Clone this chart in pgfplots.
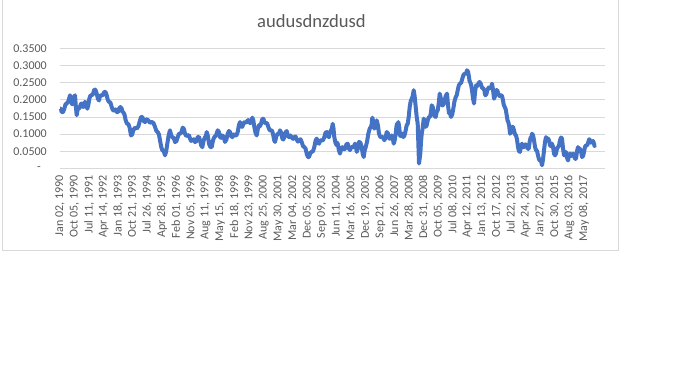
\documentclass[border=0pt]{standalone}
\usepackage{pgfplots}
\pgfplotsset{compat=1.18}
\usepackage{fontspec}
\setmainfont{Carlito}
\definecolor{serblue}{RGB}{68,114,196}
\definecolor{gridgray}{RGB}{217,217,217}
\definecolor{txtgray}{RGB}{89,89,89}
\begin{document}
\begin{tikzpicture}[x=1bp,y=1bp]
\path (0,0) rectangle (680,378);
\draw[gridgray, line width=0.75bp] (2.5,378) -- (2.5,128) -- (618.5,128) -- (618.5,378);
\node[anchor=base, text=txtgray, font=\fontsize{18.6bp}{22bp}\selectfont] at (311.5,351) {audusdnzdusd};
\begin{axis}[
  at={(60bp,210bp)}, anchor=south west,
  scale only axis, width=545bp, height=120bp,
  xmin=60, xmax=605, ymin=0, ymax=0.35,
  clip=false,
  axis line style={draw=none},
  major tick length=0pt,
  ymajorgrids, grid style={draw=gridgray, line width=0.75bp},
  ytick={0,0.05,0.1,0.15,0.2,0.25,0.3,0.35},
  yticklabels={{-\rule{6bp}{0pt}},0.0500,0.1000,0.1500,0.2000,0.2500,0.3000,0.3500},
  yticklabel style={font=\fontsize{12bp}{14bp}\selectfont, text=txtgray, inner sep=0pt, anchor=east, xshift=-13bp},
  xtick={60,74.56,89.11,103.67,118.22,132.78,147.33,161.89,176.44,191.0,205.56,220.11,234.67,249.22,263.78,278.33,292.89,307.44,322.0,336.56,351.11,365.67,380.22,394.78,409.33,423.89,438.44,453.0,467.56,482.11,496.67,511.22,525.78,540.33,554.89,569.44,584.0},
  xticklabels={{Jan 02, 1990},{Oct 05, 1990},{Jul 11, 1991},{Apr 14, 1992},{Jan 18, 1993},{Oct 21, 1993},{Jul 26, 1994},{Apr 28, 1995},{Feb 01, 1996},{Nov 05, 1996},{Aug 11, 1997},{May 15, 1998},{Feb 18, 1999},{Nov 23, 1999},{Aug 25, 2000},{May 30, 2001},{Mar 04, 2002},{Dec 05, 2002},{Sep 09, 2003},{Jun 11, 2004},{Mar 16, 2005},{Dec 19, 2005},{Sep 21, 2006},{Jun 26, 2007},{Mar 28, 2008},{Dec 31, 2008},{Oct 05, 2009},{Jul 08, 2010},{Apr 12, 2011},{Jan 13, 2012},{Oct 17, 2012},{Jul 22, 2013},{Apr 24, 2014},{Jan 27, 2015},{Oct 30, 2015},{Aug 03, 2016},{May 08, 2017}},
  xticklabel style={font=\fontsize{12bp}{14bp}\selectfont, text=txtgray, inner sep=0pt, yshift=-7bp, rotate=90, anchor=east},
]
\addplot[serblue, line width=4bp, line join=round, no marks] coordinates {
(60,0.174)(60.9,0.174)(61.7,0.164)(63.0,0.164)(64.3,0.174)(65.5,0.187)(66.7,0.189)(68.4,0.196)(70,0.213)(70.9,0.206)(71.7,0.189)(72.5,0.187)(73.3,0.194)(74.2,0.209)(75,0.213)(75.9,0.179)(76.7,0.155)(77.5,0.170)(78.3,0.174)(79.7,0.177)(81,0.189)(82.2,0.189)(83.3,0.179)(84.2,0.182)(85,0.194)(86.2,0.189)(87.3,0.174)(88.3,0.184)(89.3,0.203)(90.5,0.213)(91.7,0.213)(93.0,0.217)(94.3,0.230)(95.5,0.229)(96.7,0.218)(97.9,0.203)(99,0.198)(100,0.211)(101,0.213)(102.7,0.213)(104.3,0.223)(105.5,0.223)(106.7,0.213)(107.9,0.199)(109,0.194)(110.4,0.192)(111.7,0.179)(113.0,0.169)(114.3,0.169)(115.5,0.172)(116.7,0.164)(117.9,0.164)(119,0.174)(120.4,0.179)(121.7,0.174)(122.5,0.164)(123.3,0.164)(124.5,0.157)(125.7,0.140)(127.0,0.130)(128.3,0.130)(129.7,0.118)(131,0.096)(132.2,0.099)(133.3,0.111)(135.0,0.119)(136.7,0.116)(138.4,0.123)(140,0.140)(141.2,0.150)(142.3,0.150)(143.7,0.138)(145,0.135)(146.7,0.143)(148.3,0.140)(150.0,0.133)(151.7,0.135)(153.4,0.133)(155,0.121)(156.4,0.109)(157.7,0.106)(158.9,0.099)(160,0.082)(161.2,0.063)(162.3,0.053)(163.7,0.051)(165,0.038)(166.2,0.050)(167.3,0.072)(168.7,0.097)(170,0.111)(171.2,0.096)(172.3,0.091)(173.7,0.089)(175,0.077)(176.4,0.079)(177.7,0.091)(178.9,0.101)(180,0.101)(181.4,0.105)(182.7,0.119)(183.9,0.115)(185,0.101)(186.4,0.094)(187.7,0.096)(188.9,0.097)(190,0.087)(191.2,0.080)(192.3,0.082)(193.7,0.085)(195,0.077)
(196.4,0.079)(197.7,0.091)(198.9,0.092)(200,0.082)(201.2,0.067)(202.3,0.062)(203.7,0.082)(205,0.091)(205.9,0.094)(206.7,0.106)(207.9,0.094)(209,0.072)(210.4,0.062)(211.7,0.062)(213.0,0.082)(214.3,0.091)(216.0,0.096)(217.7,0.111)(218.9,0.106)(220,0.091)(221.2,0.089)(222.3,0.096)(223.7,0.092)(225,0.077)(226.4,0.084)(227.7,0.101)(228.9,0.109)(230,0.106)(231.2,0.094)(232.3,0.091)(233.7,0.099)(235,0.096)(236.4,0.096)(237.7,0.106)(238.9,0.126)(240,0.135)(241.2,0.123)(242.3,0.121)(243.7,0.133)(245,0.135)(246.4,0.133)(247.7,0.140)(248.9,0.141)(250,0.132)(251.2,0.135)(252.3,0.148)(253.3,0.140)(254.3,0.121)(255.5,0.104)(256.7,0.096)(257.9,0.116)(259,0.126)(260,0.123)(261,0.130)(262.2,0.143)(263.3,0.145)(264.5,0.134)(265.7,0.132)(267.0,0.132)(268.3,0.121)(269.7,0.111)(271,0.111)(272.2,0.109)(273.3,0.096)(274.2,0.082)(275,0.077)(276.4,0.094)(277.7,0.101)(278.9,0.101)(280,0.111)(281.2,0.104)(282.3,0.087)(283.3,0.084)(284.3,0.091)(285.5,0.105)(286.7,0.109)(287.9,0.095)(289,0.091)(290.4,0.096)(291.7,0.090)(293.0,0.086)(294.3,0.091)(295.5,0.093)(296.7,0.084)(297.9,0.078)(299,0.082)(300.4,0.085)(301.7,0.077)(303.0,0.065)(304.3,0.062)(305.5,0.058)(306.7,0.043)(307.9,0.033)(309,0.033)(310.4,0.046)(311.7,0.048)(313.0,0.050)(314.3,0.062)(315.5,0.080)(316.7,0.087)(317.9,0.075)(319,0.072)(320.4,0.082)(321.7,0.082)(323.0,0.082)(324.3,0.091)(325.5,0.104)(326.7,0.106)(327.9,0.094)(329,0.091)(330,0.106)(331,0.111)(331.9,0.116)(332.7,0.130)(333.5,0.116)(334.3,0.091)(335.5,0.074)(336.7,0.067)(337.2,0.075)
(337.7,0.072)(338.9,0.053)(340,0.043)(341.2,0.058)(342.3,0.062)(343.7,0.055)(345,0.057)(346.4,0.070)(347.7,0.072)(348.9,0.058)(350,0.053)(351.2,0.063)(352.3,0.062)(353.7,0.062)(355,0.072)(355.9,0.065)(356.7,0.048)(357.9,0.058)(359,0.077)(360.4,0.075)(361.7,0.062)(362.7,0.043)(363.7,0.033)(364.7,0.053)(365.7,0.062)(367.0,0.077)(368.3,0.101)(369.7,0.116)(371,0.121)(371.7,0.130)(372.3,0.148)(373.3,0.137)(374.3,0.116)(375.5,0.123)(376.7,0.140)(377.9,0.126)(379,0.101)(380.4,0.091)(381.7,0.091)(383.0,0.092)(384.3,0.082)(385.5,0.089)(386.7,0.106)(387.9,0.102)(389,0.087)(390.4,0.087)(391.7,0.096)(392.7,0.089)(393.7,0.072)(394.7,0.082)(395.7,0.101)(396.4,0.121)(397,0.130)(397.7,0.128)(398.3,0.135)(399.2,0.121)(400,0.096)(400.9,0.094)(401.7,0.101)(402.5,0.101)(403.3,0.091)(404.5,0.096)(405.7,0.111)(406.7,0.126)(407.7,0.130)(408.7,0.150)(409.7,0.179)(410.7,0.196)(411.7,0.203)(412.7,0.211)(413.7,0.228)(414.7,0.209)(415.7,0.179)(416.7,0.150)(417.7,0.130)(419,0.014)(420.3,0.043)(421.0,0.077)(421.7,0.101)(422.7,0.118)(423.7,0.145)(424.7,0.138)(425.7,0.121)(426.7,0.126)(427.7,0.140)(428.9,0.150)(430,0.150)(430.9,0.162)(431.7,0.184)(432.7,0.179)(433.7,0.164)(434.7,0.152)(435.7,0.150)(436.7,0.165)(437.7,0.169)(438.7,0.189)(439.7,0.218)(440.7,0.206)(441.7,0.184)(443.0,0.184)(444.3,0.194)(445.7,0.211)(447,0.218)(448,0.184)(449,0.160)(450,0.160)(451,0.150)(452.2,0.157)(453.3,0.174)(454.5,0.196)(455.7,0.208)(456.7,0.213)(457.7,0.228)(458.9,0.243)(460,0.247)(461.2,0.250)(462.3,0.262)(463.7,0.274)(465,0.276)(466,0.276)(467,0.286)(468,0.282)(469,0.267)(469.5,0.255)
(470,0.252)(471,0.245)(472,0.228)(473,0.204)(474,0.189)(475,0.221)(476,0.242)(477.2,0.240)(478.3,0.247)(479.5,0.252)(480.7,0.247)(482,0.235)(483.3,0.233)(484.3,0.228)(485.3,0.213)(486.3,0.216)(487.3,0.228)(488.7,0.236)(490,0.233)(491,0.235)(492,0.247)(493,0.230)(494,0.203)(495,0.211)(496,0.228)(497.2,0.228)(498.3,0.218)(499.5,0.211)(500.7,0.213)(501.7,0.213)(502.7,0.203)(503.7,0.186)(504.7,0.179)(505.7,0.172)(506.7,0.155)(507.5,0.140)(508.3,0.135)(509.2,0.123)(510,0.101)(511,0.106)(512,0.121)(513,0.121)(514,0.111)(515,0.099)(516,0.096)(517,0.084)(518,0.062)(519,0.050)(520,0.048)(521,0.065)(522,0.072)(523,0.062)(524,0.062)(525.4,0.070)(526.7,0.067)(527.7,0.057)(528.7,0.057)(529.7,0.079)(530.7,0.091)(531.4,0.091)(532,0.101)(533,0.097)(534,0.082)(535,0.063)(536,0.053)(537,0.051)(538,0.038)(539,0.026)(540,0.023)(541,0.021)(542,0.009)(543,0.026)(544,0.053)(545,0.077)(546,0.091)(547,0.084)(548,0.087)(549,0.082)(550,0.067)(551,0.065)(552,0.072)(553,0.063)(554,0.043)(555,0.038)(556,0.043)(557,0.058)(558,0.062)(559,0.067)(560,0.082)(561,0.090)(562,0.087)(563,0.058)(564,0.038)(565,0.048)(566,0.048)(567,0.031)(568,0.023)(569,0.038)(570,0.043)(571,0.036)(572,0.038)(573,0.043)(574,0.038)(575,0.028)(576,0.028)(577,0.050)(578,0.062)(579,0.055)(580,0.057)(581,0.050)(582,0.033)(583,0.036)(584,0.048)(585,0.063)(586,0.067)(587.2,0.067)(588.3,0.077)(589.2,0.085)(590,0.082)(591,0.075)(592,0.077)(593,0.080)(594,0.072)(594.5,0.065)(595,0.067)
};
\end{axis}
\end{tikzpicture}
\end{document}
